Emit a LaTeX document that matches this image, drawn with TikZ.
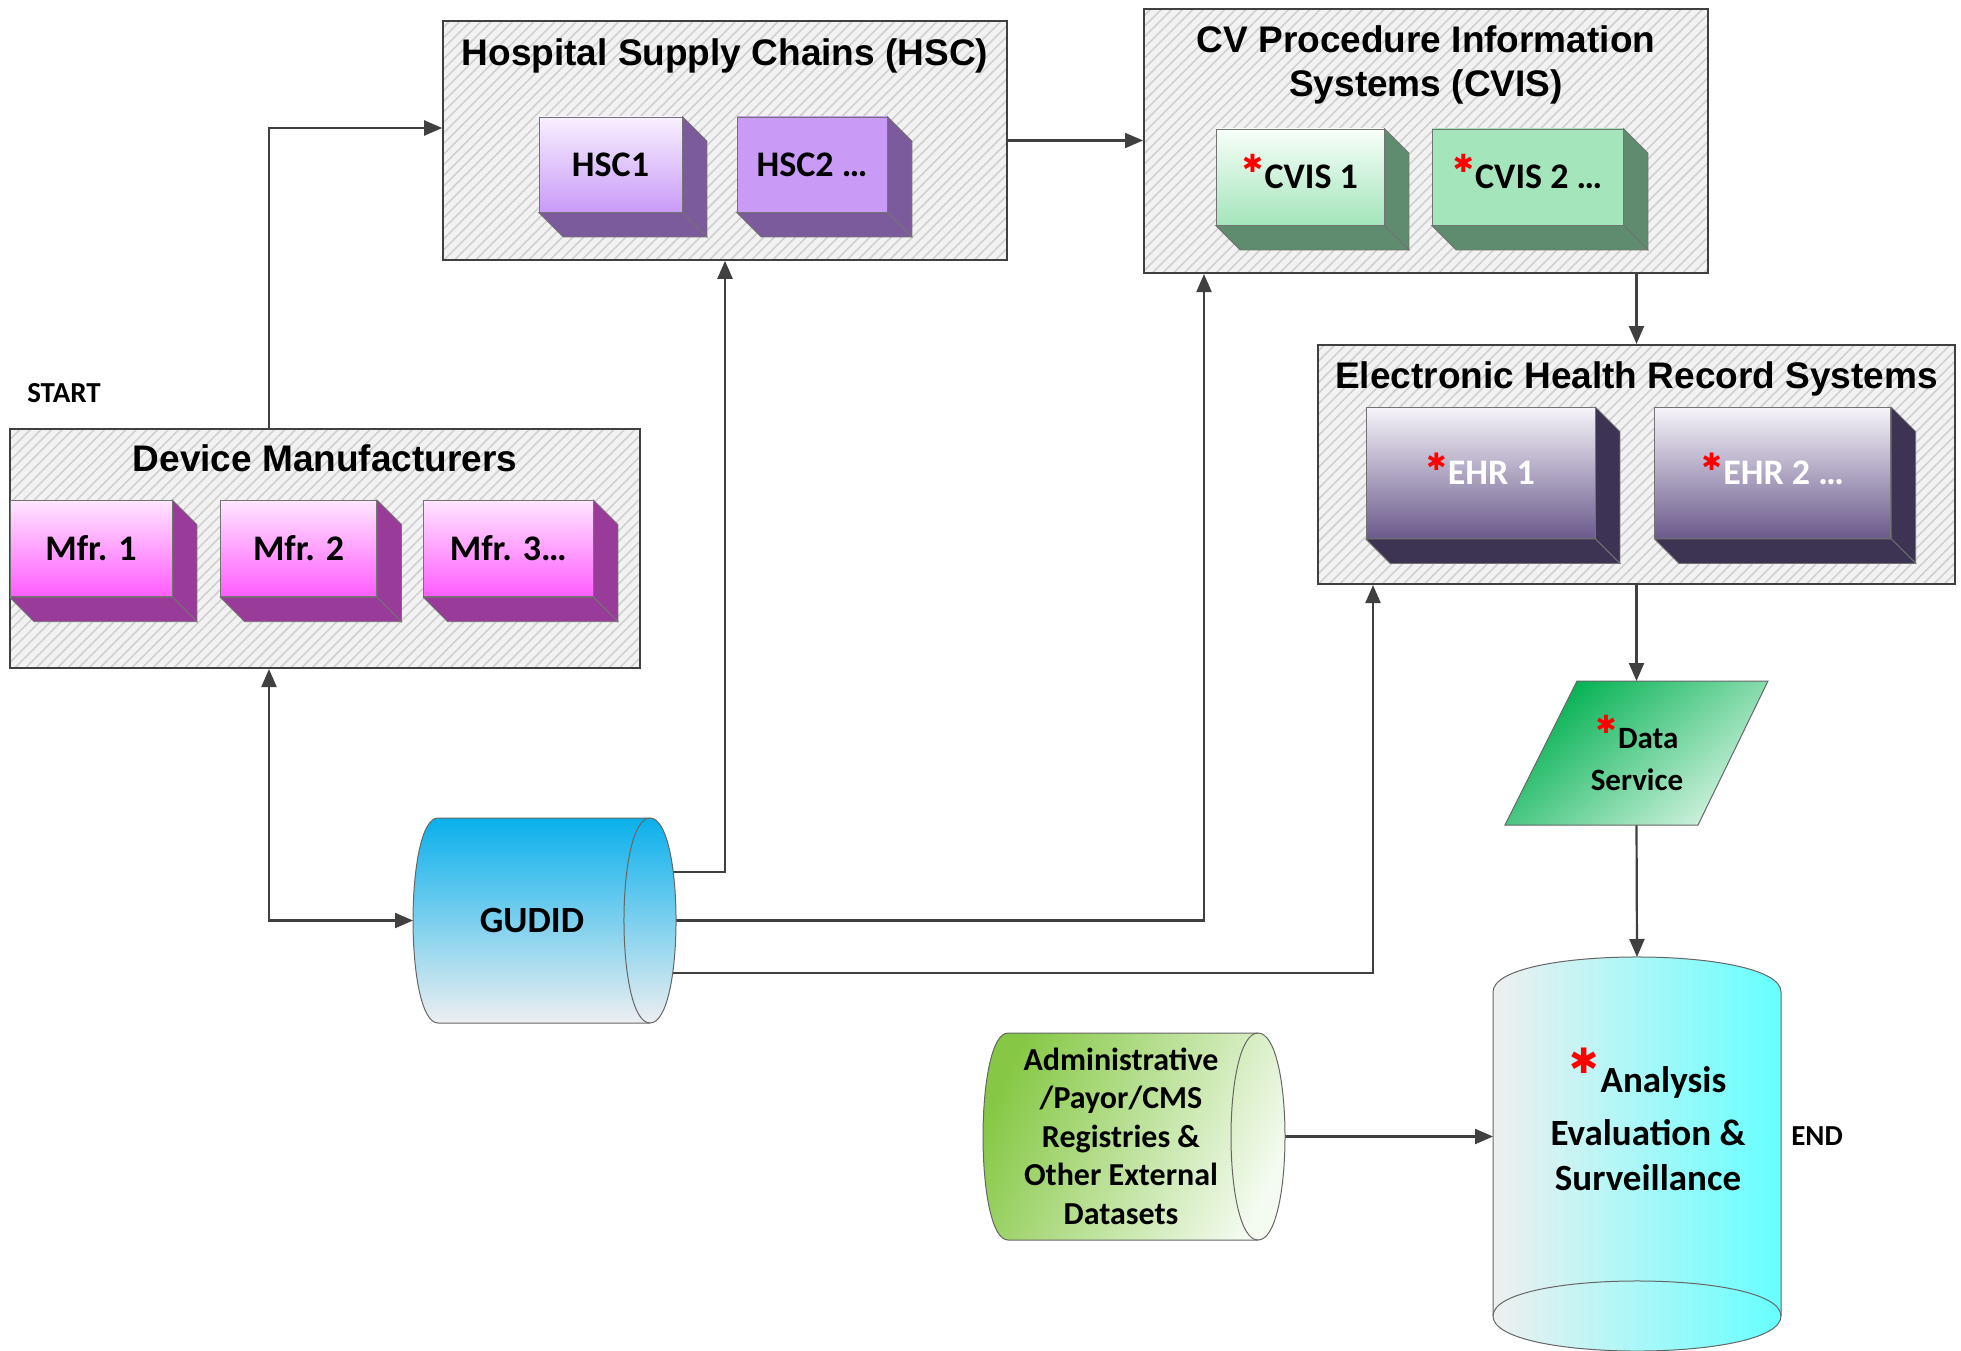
\documentclass[tikz,border=0pt]{standalone}
\usepackage{fontspec}
\setmainfont{Carlito}
\newfontfamily\arialf{Liberation Sans}
\newfontfamily\djv{DejaVu Sans}
\usetikzlibrary{arrows.meta,patterns.meta}
\definecolor{linec}{HTML}{404040}
\definecolor{contfill}{HTML}{F2F2F2}
\definecolor{hatchc}{HTML}{D0D0D0}
\definecolor{hscTop}{HTML}{F8F0FF}
\definecolor{hscBot}{HTML}{C99BF7}
\definecolor{hscSide}{HTML}{7B5B9C}
\definecolor{cvTop}{HTML}{F7FFF9}
\definecolor{cvBot}{HTML}{A4E5BB}
\definecolor{cvSide}{HTML}{5F8B6E}
\definecolor{ehrTop}{HTML}{F6F4F9}
\definecolor{ehrBot}{HTML}{6A5A8C}
\definecolor{ehrSide}{HTML}{3D3352}
\definecolor{mfTop}{HTML}{FFE6FF}
\definecolor{mfBot}{HTML}{FF5CFF}
\definecolor{mfSide}{HTML}{993C99}
\definecolor{gudTop}{HTML}{0AB0EC}
\definecolor{gudBot}{HTML}{EDEFF0}
\definecolor{admTop}{HTML}{86C845}
\definecolor{admMid}{HTML}{B5DE8E}
\definecolor{admBot}{HTML}{F4FBF0}
\definecolor{dsTop}{HTML}{00B050}
\definecolor{dsMid}{HTML}{03B152}
\definecolor{dsBot}{HTML}{D0F2DE}
\definecolor{anaL}{HTML}{EFEFEF}
\definecolor{anaR}{HTML}{66FFFF}
\pgfdeclarelayer{bg}
\pgfsetlayers{bg,main}
\newcommand\rst[2]{\smash{\raisebox{#2}{\textcolor{red}{\djv\fontsize{#1}{#1}\selectfont ✱}}}\kern1.5pt}
\newcommand\mkcube[9]{%
  \node[cubefront, minimum width=#4pt, minimum height=#5pt, top color=#6, bottom color=#7] (#1) at (#2,#3) {#9};
  \draw[cubeside, fill=#8] (#1.north east) -- ++(24.5pt,-24.5pt) -- ([shift={(24.5pt,-24.5pt)}]#1.south east) -- (#1.south east) -- cycle;
  \draw[cubeside, fill=#8] (#1.south west) -- ++(24.5pt,-24.5pt) -- ([shift={(24.5pt,-24.5pt)}]#1.south east) -- (#1.south east) -- cycle;
}
\begin{document}
\begin{tikzpicture}[x=1pt,y=-1pt,
  container/.style={draw=linec, line width=2pt, inner sep=0pt,
    preaction={fill=contfill},
    pattern={Lines[angle=45,distance=7.5pt,line width=1.6pt]}, pattern color=hatchc},
  ttl/.style={font=\arialf\bfseries\fontsize{37}{44}\selectfont, anchor=base, inner sep=0pt},
  cubefront/.style={draw=black!55, line width=0.8pt, inner sep=0pt,
    font=\bfseries\fontsize{36}{40}\selectfont},
  cubeside/.style={draw=black!55, line width=0.8pt},
  shapeline/.style={draw=black!60, line width=1pt},
  lbl/.style={font=\bfseries\fontsize{#1}{#1}\selectfont, anchor=base, inner sep=0pt},
  lbl/.default=37,
  conn/.style={draw=linec, line width=2.2pt, -{Triangle[length=18pt,width=15pt]}},
  ghost/.style={inner sep=0pt, outer sep=0pt}
]
\useasboundingbox (0,0) rectangle (1961,1351);

% ---------- containers ----------
\node[container, minimum width=564pt, minimum height=239pt] (hsc) at (725,140.5) {};
\node[container, minimum width=564pt, minimum height=264pt] (cvis) at (1426,141) {};
\node[container, minimum width=637pt, minimum height=239pt] (ehr) at (1636.5,464.5) {};
\node[container, minimum width=630pt, minimum height=239pt] (dm) at (325,548.5) {};

\node[ttl] (hsct) at (725,66) {Hospital Supply Chains (HSC)};
\node[ttl] (cvist1) at (1426,53) {CV Procedure Information};
\node[ttl] (cvist2) at (1426,96.5) {Systems (CVIS)};
\node[ttl] (ehrt) at (1636.5,388) {Electronic Health Record Systems};
\node[ttl] (dmt) at (325,471) {Device Manufacturers};

% ---------- 3D boxes ----------
\mkcube{hsca}{610.5}{164.5}{143}{95}{hscTop}{hscBot}{hscSide}{HSC1}
\mkcube{hscb}{812}{164.5}{150}{95}{hscBot}{hscBot}{hscSide}{HSC2 …}
\mkcube{cvisa}{1300}{177}{168}{96}{cvTop}{cvBot}{cvSide}{\rst{25}{16pt}CVIS 1}
\mkcube{cvisb}{1527.5}{177}{191}{96}{cvBot}{cvBot}{cvSide}{\rst{25}{16pt}CVIS 2 …}
\mkcube{ehra}{1480.5}{473}{229}{131}{ehrTop}{ehrBot}{ehrSide}{\rst{24}{14pt}\textcolor{white}{EHR 1}}
\mkcube{ehrb}{1772.8}{473}{236}{131}{ehrTop}{ehrBot}{ehrSide}{\rst{24}{14pt}\textcolor{white}{EHR 2 …}}
\mkcube{mfra}{91}{548.6}{162}{96.4}{mfTop}{mfBot}{mfSide}{Mfr. 1}
\mkcube{mfrb}{298.6}{548.6}{156}{96.4}{mfTop}{mfBot}{mfSide}{Mfr. 2}
\mkcube{mfrc}{508.3}{548.6}{169.4}{96.4}{mfTop}{mfBot}{mfSide}{Mfr. 3…}

\node[font=\bfseries\fontsize{29}{29}\selectfont, inner sep=0pt] (startlbl) at (64,393) {START};
\node[font=\bfseries\fontsize{29}{29}\selectfont, inner sep=0pt] (endlbl) at (1817,1136) {END};

% ---------- GUDID ----------
\node[ghost, minimum width=263pt, minimum height=205pt] (gudid) at (544.5,920.5) {};
\path[shapeline, top color=gudTop, bottom color=gudBot]
  (438,818) -- (650,818) .. controls (684.7,818) and (684.7,1023) .. (650,1023)
  -- (438,1023) .. controls (404.7,1023) and (404.7,818) .. (438,818) -- cycle;
\draw[shapeline] (650,818) .. controls (615.3,818) and (615.3,1023) .. (650,1023);
\node[font=\bfseries\fontsize{37}{37}\selectfont, inner sep=0pt] (gudidlbl) at (532,920.5) {GUDID};

% ---------- Admin datasets ----------
\node[ghost, minimum width=302pt, minimum height=207pt] (admin) at (1134,1136.5) {};
\path[shapeline, top color=admTop, middle color=admMid, bottom color=admBot, shading angle=65]
  (1008,1033) -- (1258,1033) .. controls (1294,1033) and (1294,1240) .. (1258,1240)
  -- (1008,1240) .. controls (974.7,1240) and (974.7,1033) .. (1008,1033) -- cycle;
\draw[shapeline] (1258,1033) .. controls (1222,1033) and (1222,1240) .. (1258,1240);
\node[lbl=32] (adm1) at (1121,1070) {Administrative};
\node[lbl=32] (adm2) at (1121,1108.5) {/Payor/CMS};
\node[lbl=32] (adm3) at (1121,1147) {Registries \&};
\node[lbl=32] (adm4) at (1121,1185.5) {Other External};
\node[lbl=32] (adm5) at (1121,1224) {Datasets};

% ---------- Data Service ----------
\node[ghost, minimum width=263pt, minimum height=144pt] (ds) at (1636.5,753) {};
\path[shapeline, top color=dsTop, middle color=dsMid, bottom color=dsBot, shading angle=40]
  (1577,681) -- (1768,681) -- (1698,825) -- (1505,825) -- cycle;
\node[lbl=31] (ds1) at (1637,748) {\rst{25}{15pt}Data};
\node[lbl=31] (ds2) at (1637,790) {Service};

% ---------- Analysis ----------
\node[ghost, minimum width=288pt, minimum height=394pt] (ana) at (1637,1154) {};
\path[shapeline, left color=anaL, right color=anaR]
  (1493,992) .. controls (1493,945.3) and (1781,945.3) .. (1781,992)
  -- (1781,1316) .. controls (1781,1362.7) and (1493,1362.7) .. (1493,1316) -- cycle;
\draw[shapeline] (1493,1316) .. controls (1493,1269.3) and (1781,1269.3) .. (1781,1316);
\node[lbl=37] (ana1) at (1648,1092) {\rst{35}{19pt}Analysis};
\node[lbl=37] (ana2) at (1648,1145) {Evaluation \&};
\node[lbl=37] (ana3) at (1648,1190) {Surveillance};

% ---------- connectors ----------
\begin{pgfonlayer}{bg}
\draw[conn] ([xshift=-56pt]dm.north) |- ([yshift=12.5pt]hsc.west);
\draw[conn, {Triangle[length=18pt,width=15pt]}-{Triangle[length=18pt,width=15pt]}] ([xshift=-56pt]dm.south) |- (gudid.west);
\draw[conn] ([yshift=48.5pt]gudid.center) -| (hsc.south);
\draw[conn] (gudid.center) -| ([xshift=-222pt]cvis.south);
\draw[conn] ([yshift=-52.5pt]gudid.center) -| ([xshift=-263.5pt]ehr.south);
\draw[conn] (hsc.east) -- (hsc.east -| cvis.west);
\draw[conn] (cvis.south -| ehr.north) -- (ehr.north);
\draw[conn] (ehr.south) -- (ds.north);
\draw[conn] (ds.south) -- (ana.north);
\draw[conn] (admin.east) -- (admin.east -| ana.west);
\end{pgfonlayer}
\end{tikzpicture}
\end{document}
